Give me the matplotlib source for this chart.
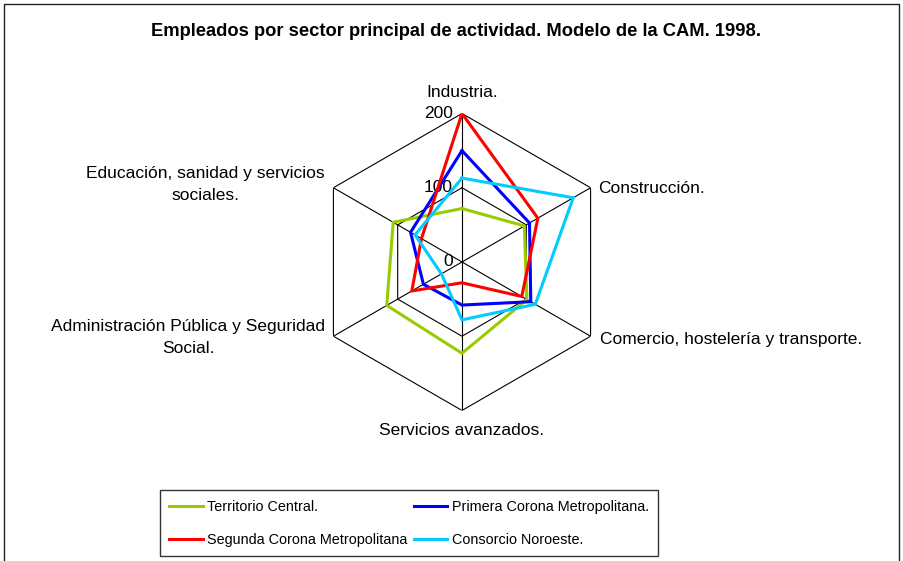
import numpy as np
import matplotlib.pyplot as plt
from matplotlib.patches import Rectangle

plt.rcParams['font.family'] = ['Liberation Sans', 'DejaVu Sans']

categories = ['Industria.', 'Construcción.', 'Comercio, hostelería y transporte.',
              'Servicios avanzados.', 'Administración Pública y Seguridad\nSocial.',
              'Educación, sanidad y servicios\nsociales.']
series_names = ['Territorio Central.', 'Primera Corona Metropolitana.',
                'Segunda Corona Metropolitana', 'Consorcio Noroeste.']
territorio_central = [72, 97, 101, 123, 117, 107]
primera_corona = [150, 105, 107, 58, 60, 80]
segunda_corona = [200, 118, 93, 28, 78, 63]
consorcio_noroeste = [113, 173, 114, 78, 32, 73]
ticks = [0, 100, 200]
colors = ['#99cc00', '#0000ff', '#ff0000', '#00ccff']

fig = plt.figure(figsize=(9.04, 5.61), dpi=100)
# outer chart border
fig.patches.append(Rectangle((4/904, -0.05), 895/904, 1.05 - 4/561, transform=fig.transFigure,
                             fill=False, edgecolor='#222222', lw=1))
fig.text(456/904, 1 - 31/561, 'Empleados por sector principal de actividad. Modelo de la CAM. 1998.',
         ha='center', va='center', fontsize=13.2, fontweight='bold')

ax = fig.add_axes([0.3468, 0.2683, 0.3285, 0.5294], projection='polar')
ax.set_theta_zero_location('N')
ax.set_theta_direction(-1)
ax.set_ylim(0, 200)
ax.grid(False)
ax.spines['polar'].set_visible(False)
ax.set_xticks([])
ax.set_yticks([])
ax.patch.set_visible(False)

theta = np.deg2rad(np.arange(len(categories)) * 360 / len(categories))
closed = np.append(theta, theta[0])

# hexagon grid and spokes
for t in ticks[1:]:
    ax.plot(closed, [t] * len(closed), color='black', lw=0.8, zorder=1)
for th in theta:
    ax.plot([th, th], [0, ticks[-1]], color='black', lw=0.8, zorder=1)
for t in ticks:
    ax.annotate(str(t), xy=(0, t), xytext=(-9, 0), textcoords='offset pixels',
                ha='right', va='center', fontsize=12.5)

offsets = [(0, 21, 'center'), (8, -1, 'left'), (9, -3, 'left'),
           (0, -20, 'center'), (-8, -1, 'right'), (-9, 3, 'right')]
for th, lab, (dx, dy, ha) in zip(theta, categories, offsets):
    ax.annotate(lab, xy=(th, ticks[-1]), xytext=(dx, dy), textcoords='offset pixels',
                ha=ha, va='center', multialignment='center', fontsize=12.5,
                linespacing=1.57)

lines = []
for vals, name, c in zip([territorio_central, primera_corona, segunda_corona, consorcio_noroeste],
                         series_names, colors):
    ln, = ax.plot(closed, vals + vals[:1], color=c, lw=2.2, label=name, zorder=3,
                  solid_joinstyle='miter')
    lines.append(ln)

# legend filled row by row like the original
order = [0, 2, 1, 3]
leg = fig.legend([lines[i] for i in order], [series_names[i] for i in order],
                 loc='lower left', bbox_to_anchor=(160/904, 5/561), borderaxespad=0,
                 ncol=2, fontsize=10.4, frameon=True, fancybox=False,
                 edgecolor='black', handlelength=2.3, handletextpad=0.28,
                 columnspacing=0.5, borderpad=0.65, labelspacing=1.3)
leg.get_frame().set_linewidth(1)

fig.savefig('out.png', dpi=100)
